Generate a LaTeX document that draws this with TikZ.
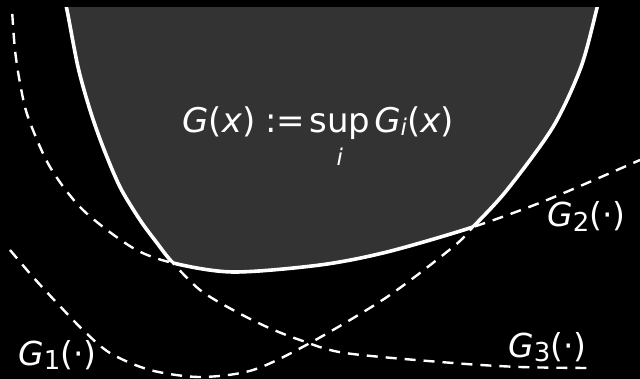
\documentclass[tikz,border=0pt]{standalone}
\usepackage{fontspec}
\setmainfont{DejaVu Sans}
\definecolor{regiongray}{HTML}{333333}
\begin{document}
\begin{tikzpicture}[x=1pt,y=-1pt]
\tikzset{
  gdash/.style={white, line width=2.4pt, dash pattern=on 11pt off 8pt},
  bound/.style={white, line width=3.6pt},
  lbl/.style={text=white, inner sep=0pt, anchor=base west, font=\fontsize{33}{40}\selectfont},
}
\def\pGA{plot[smooth] coordinates {(10,250) (33,277) (57,303) (83,330) (110,353) (150,370) (200,377) (253,370) (310,343) (387,297) (453,247) (473,227) (507,190) (553,127) (581,67) (597,8) (600,-5)}}
\def\pGB{plot[smooth] coordinates {(11,-5) (12,10) (15,50) (20,83) (28,117) (50,167) (83,210) (133,248) (173,263) (233,272) (320,265) (387,252) (473,227) (547,200) (640,160)}}
\def\pGC{plot[smooth] coordinates {(63,-5) (67,10) (78,67) (90,110) (103,147) (120,187) (140,220) (157,243) (172,262) (200,290) (233,310) (267,327) (300,340) (345,353) (453,363) (520,367) (587,368)}}
\def\eGA{\pGA -- (700,-30) -- (-30,-30) -- (-30,250) -- cycle}
\def\eGB{\pGB -- (700,130) -- (700,-30) -- (-30,-30) -- cycle}
\def\eGC{\pGC -- (700,370) -- (700,-30) -- (-30,-30) -- cycle}
\fill[black] (0,0) rectangle (640,379);
\useasboundingbox (0,0) rectangle (640,379);
\begin{scope}
  \clip (0,8) rectangle (640,379);
  % filled region: intersection of epigraphs
  \begin{scope}
    \clip \eGA; \clip \eGB; \clip \eGC;
    \fill[regiongray] (0,0) rectangle (640,379);
  \end{scope}
  % solid boundary: each curve where it is the supremum
  \begin{scope}
    \clip \eGB; \clip \eGC;
    \draw[bound] \pGA;
  \end{scope}
  \begin{scope}
    \clip \eGA; \clip \eGC;
    \draw[bound] \pGB;
  \end{scope}
  \begin{scope}
    \clip \eGA; \clip \eGB;
    \draw[bound] \pGC;
  \end{scope}
  % the three functions, dashed
  \draw[gdash] \pGA;
  \draw[gdash] \pGB;
  \draw[gdash] \pGC;
\end{scope}
\node[lbl, font=\fontsize{34}{41}\selectfont] (formula) at (182,133) {\textit{G}(\textit{x})\hspace{10pt}:=\hspace{4pt}\begin{tabular}[t]{@{}c@{}}sup\\[-8pt]{\fontsize{23}{23}\selectfont\textit{i}}\end{tabular}\hspace{4pt}\textit{G}\raisebox{-3pt}{\fontsize{23}{23}\selectfont\textit{i}}(\textit{x})};
\node[lbl] (g1) at (18,365) {\textit{G}\raisebox{-5pt}{\fontsize{26}{26}\selectfont 1}(⋅)};
\node[lbl] (g2) at (547,227) {\textit{G}\raisebox{-5pt}{\fontsize{26}{26}\selectfont 2}(⋅)};
\node[lbl] (g3) at (508,357) {\textit{G}\raisebox{-5pt}{\fontsize{26}{26}\selectfont 3}(⋅)};
\end{tikzpicture}
\end{document}
